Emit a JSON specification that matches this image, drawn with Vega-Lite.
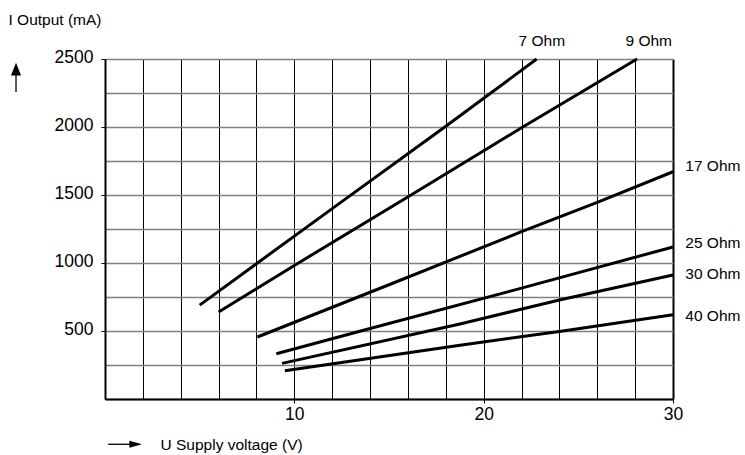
{
  "$schema": "https://vega.github.io/schema/vega-lite/v6.json",
  "width": 568,
  "height": 340,
  "autosize": "none",
  "padding": {"left": 105, "top": 59, "right": 72, "bottom": 56},
  "background": "white",
  "config": {
    "view": {"stroke": null},
    "font": "Liberation Sans",
    "axis": {
      "labelFont": "Liberation Sans",
      "titleFont": "Liberation Sans",
      "labelColor": "black",
      "titleColor": "black",
      "labelFontSize": 17.5,
      "titleFontSize": 15.5,
      "titleFontWeight": "normal",
      "domainColor": "black",
      "domainWidth": 2,
      "tickColor": "black",
      "tickWidth": 1,
      "tickSize": 4
    }
  },
  "datasets": {
    "curves": [
      {"series": "7 Ohm", "x": 5.0, "y": 690},
      {"series": "7 Ohm", "x": 8.0, "y": 995},
      {"series": "7 Ohm", "x": 12.0, "y": 1400},
      {"series": "7 Ohm", "x": 18.0, "y": 2005},
      {"series": "7 Ohm", "x": 22.8, "y": 2500},
      {"series": "9 Ohm", "x": 6.0, "y": 640},
      {"series": "9 Ohm", "x": 10.0, "y": 982},
      {"series": "9 Ohm", "x": 16.1, "y": 1495},
      {"series": "9 Ohm", "x": 22.0, "y": 1995},
      {"series": "9 Ohm", "x": 28.1, "y": 2500},
      {"series": "17 Ohm", "x": 8.05, "y": 456},
      {"series": "17 Ohm", "x": 15.0, "y": 840},
      {"series": "17 Ohm", "x": 22.0, "y": 1230},
      {"series": "17 Ohm", "x": 26.0, "y": 1446},
      {"series": "17 Ohm", "x": 30.0, "y": 1671},
      {"series": "25 Ohm", "x": 9.05, "y": 333},
      {"series": "25 Ohm", "x": 14.0, "y": 518},
      {"series": "25 Ohm", "x": 22.0, "y": 815},
      {"series": "25 Ohm", "x": 30.0, "y": 1118},
      {"series": "30 Ohm", "x": 9.35, "y": 262},
      {"series": "30 Ohm", "x": 18.75, "y": 552},
      {"series": "30 Ohm", "x": 24.0, "y": 728},
      {"series": "30 Ohm", "x": 30.0, "y": 912},
      {"series": "40 Ohm", "x": 9.5, "y": 208},
      {"series": "40 Ohm", "x": 18.75, "y": 396},
      {"series": "40 Ohm", "x": 24.0, "y": 497},
      {"series": "40 Ohm", "x": 30.0, "y": 620}
    ],
    "labels": [
      {"label": "7 Ohm", "x": 23.07, "y": 2634, "pos": "top"},
      {"label": "9 Ohm", "x": 28.72, "y": 2634, "pos": "top"},
      {"label": "17 Ohm", "x": 30.65, "y": 1715, "pos": "right"},
      {"label": "25 Ohm", "x": 30.65, "y": 1149, "pos": "right"},
      {"label": "30 Ohm", "x": 30.65, "y": 919, "pos": "right"},
      {"label": "40 Ohm", "x": 30.65, "y": 612, "pos": "right"}
    ],
    "arrowShafts": [
      {"dir": "up", "x": -4.70, "y": 2404, "x2": -4.70, "y2": 2257},
      {"dir": "right", "x": 0.17, "y": -333, "x2": 1.43, "y2": -333}
    ],
    "arrowHeads": [
      {"dir": "up", "x": -4.70, "y": 2426},
      {"dir": "right", "x": 1.62, "y": -333}
    ]
  },
  "encoding": {
    "x": {
      "field": "x",
      "type": "quantitative",
      "scale": {"domain": [0, 30], "nice": false, "zero": false},
      "axis": {
        "values": [0, 2, 4, 6, 8, 10, 12, 14, 16, 18, 20, 22, 24, 26, 28, 30],
        "labelExpr": "datum.value % 10 === 0 && datum.value > 0 ? datum.label : ''",
        "tickOpacity": {"condition": {"test": "datum.value % 10 === 0 && datum.value > 0", "value": 1}, "value": 0},
        "grid": true,
        "gridColor": "black",
        "gridOpacity": 1,
        "gridWidth": {"condition": {"test": "datum.value === 30", "value": 2}, "value": 1},
        "labelPadding": 2,
        "labelFlush": false,
        "labelOverlap": false,
        "title": "U Supply voltage (V)",
        "titleX": 55,
        "titleY": 45,
        "titleAlign": "left",
        "titleBaseline": "middle",
        "titleAnchor": null
      }
    },
    "y": {
      "field": "y",
      "type": "quantitative",
      "scale": {"domain": [0, 2500], "nice": false, "zero": false},
      "axis": {
        "values": [0, 250, 500, 750, 1000, 1250, 1500, 1750, 2000, 2250, 2500],
        "format": "d",
        "labelExpr": "datum.value % 500 === 0 && datum.value > 0 ? datum.label : ''",
        "tickOpacity": {"condition": {"test": "datum.value % 500 === 0 && datum.value > 0", "value": 1}, "value": 0},
        "grid": true,
        "gridColor": "#808080",
        "gridOpacity": 1,
        "gridWidth": 1.6,
        "labelPadding": 8,
        "labelOffset": -2,
        "labelFlush": false,
        "labelOverlap": false,
        "title": "I Output (mA)",
        "titleAngle": 0,
        "titleX": -97,
        "titleY": -40,
        "titleAlign": "left",
        "titleBaseline": "middle",
        "titleAnchor": null
      }
    }
  },
  "layer": [
    {
      "data": {"name": "curves"},
      "mark": {"type": "line", "color": "black", "strokeWidth": 3, "clip": false},
      "encoding": {
        "detail": {"field": "series", "type": "nominal"}
      }
    },
    {
      "data": {"name": "labels"},
      "transform": [{"filter": "datum.pos === 'top'"}],
      "mark": {"type": "text", "fontSize": 15.5, "color": "black", "baseline": "middle", "align": "center", "font": "Liberation Sans"},
      "encoding": {
        "text": {"field": "label"}
      }
    },
    {
      "data": {"name": "labels"},
      "transform": [{"filter": "datum.pos === 'right'"}],
      "mark": {"type": "text", "fontSize": 15.5, "color": "black", "baseline": "middle", "align": "left", "font": "Liberation Sans"},
      "encoding": {
        "text": {"field": "label"}
      }
    },
    {
      "data": {"name": "arrowShafts"},
      "mark": {"type": "rule", "color": "black", "strokeWidth": 1.3},
      "encoding": {
        "x2": {"field": "x2"},
        "y2": {"field": "y2"}
      }
    },
    {
      "data": {"name": "arrowHeads"},
      "mark": {"type": "point", "filled": true, "color": "black", "opacity": 1, "strokeWidth": 0},
      "encoding": {
        "shape": {
          "field": "dir",
          "type": "nominal",
          "scale": {"domain": ["up", "right"], "range": ["M0,-1L0.8,1L-0.8,1Z", "M1,0L-1,-0.55L-1,0.55Z"]},
          "legend": null
        },
        "size": {"value": 160}
      }
    }
  ]
}
